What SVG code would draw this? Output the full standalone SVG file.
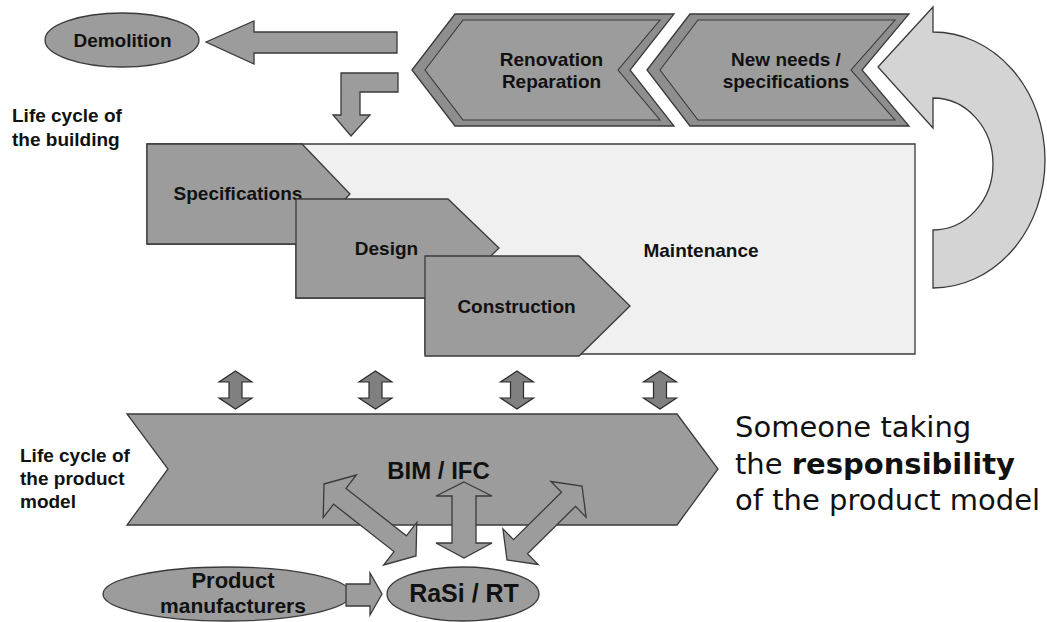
<svg xmlns="http://www.w3.org/2000/svg" xmlns:xlink="http://www.w3.org/1999/xlink" width="1047" height="622" viewBox="0 0 1047 622">
<style>
.shape{fill:#9c9c9c;stroke:#3a3a3a;stroke-width:1.3;stroke-linejoin:miter}
.chev{fill:#8e8e8e;stroke:#3a3a3a;stroke-width:1.3}
.chevin{fill:#9c9c9c;stroke:#3a3a3a;stroke-width:1.1}
.light{fill:#f0f0f0;stroke:#3a3a3a;stroke-width:1.3}
.dark{fill:#808080;stroke:#2a2a2a;stroke-width:1.2}
.curve{fill:#d4d4d4;stroke:#3a3a3a;stroke-width:1.3}
.lbl{font-family:"Liberation Sans",Arial,sans-serif;font-weight:bold;font-size:19px;fill:#111}
.c{text-anchor:middle}
.side{font-family:"DejaVu Sans",Verdana,sans-serif;font-size:29px;fill:#111}
</style>
<defs>
<polygon id="vdbl" class="dark" points="0,-19 16.5,-8 6.5,-8 6.5,8 16.5,8 0,19 -16.5,8 -6.5,8 -6.5,-8 -16.5,-8"/>
</defs>
<rect width="1047" height="622" fill="#ffffff"/>

<g id="demolition">
<ellipse class="shape" cx="122" cy="40" rx="77" ry="27"/>
<text class="lbl c" x="122.5" y="47">Demolition</text>
</g>

<g id="renovation">
<polygon class="chev" points="412,70 455,14 674,14 630,70 674,126 455,126"/>
<polygon class="chevin" points="425,70 463,20 660,20 618,70 660,120 463,120"/>
<text class="lbl c" x="551.5" y="66">Renovation</text>
<text class="lbl c" x="551.5" y="88">Reparation</text>
</g>

<g id="newneeds">
<polygon class="chev" points="647,70 690,14 909,14 862,70 909,126 690,126"/>
<polygon class="chevin" points="660,70 698,20 895,20 851,70 895,120 698,120"/>
<text class="lbl c" x="786" y="66">New needs /</text>
<text class="lbl c" x="786" y="88">specifications</text>
</g>

<g id="label-building">
<text class="lbl" x="12" y="122">Life cycle of</text>
<text class="lbl" x="12" y="146">the building</text>
</g>

<g id="maintenance">
<polygon class="light" points="147,144 915,144 915,354 425,354 425,298 296,298 296,244 147,244"/>
<text class="lbl c" x="701" y="257">Maintenance</text>
</g>

<g id="specifications">
<polygon class="shape" points="147,144 302,144 350,194 302,244 147,244"/>
<text class="lbl c" x="238" y="200">Specifications</text>
</g>

<g id="design">
<polygon class="shape" points="296,199 448,199 499,248 448,298 296,298"/>
<text class="lbl c" x="386.5" y="255">Design</text>
</g>

<g id="construction">
<polygon class="shape" points="425,256 579,256 630,306 579,356 425,356"/>
<text class="lbl c" x="516.5" y="313">Construction</text>
</g>

<g id="bim">
<polygon class="shape" points="127,414 677,414 718,469 677,525 127,525 168,469"/>
<text class="lbl c" x="438.5" y="479" style="font-size:24px">BIM / IFC</text>
</g>

<g id="label-product">
<text class="lbl" x="20" y="462">Life cycle of</text>
<text class="lbl" x="20" y="485">the product</text>
<text class="lbl" x="20" y="508">model</text>
</g>

<g id="responsibility">
<text class="side" x="735" y="437">Someone taking</text>
<text class="side" x="735" y="474">the <tspan font-weight="bold">responsibility</tspan></text>
<text class="side" x="735" y="510">of the product model</text>
</g>

<g id="manufacturers">
<ellipse class="shape" cx="227" cy="594" rx="124" ry="27"/>
<text class="lbl c" x="233" y="588" style="font-size:22px">Product</text>
<text class="lbl c" x="233" y="613" style="font-size:21px">manufacturers</text>
</g>

<g id="rasi">
<ellipse class="shape" cx="463" cy="594" rx="76" ry="27"/>
<text class="lbl c" x="464" y="602" style="font-size:25px">RaSi / RT</text>
</g>

<g id="connectors">
<polygon class="shape" points="206,42 254,21 254,32 397,32 397,53 254,53 254,64"/>
<polygon class="shape" points="398,73 398,92 360,92 360,115 370,115 351,136 333,115 341,115 341,73"/>
<path class="curve" d="M878,67 L933,7 L933,32 A112,128 0 0 1 933,288 L933,230 A60,66 0 0 0 933,98 L933,128 Z"/>
<use xlink:href="#vdbl" x="235.5" y="390"/>
<use xlink:href="#vdbl" x="375.5" y="390"/>
<use xlink:href="#vdbl" x="517" y="390"/>
<use xlink:href="#vdbl" x="660" y="390"/>
<polygon class="shape" points="324,484 356.4,475 346,488.4 406.4,535.8 416.8,522.4 416,556 383.6,565 394,551.6 333.6,504.2 323.2,517.6"/>
<polygon class="shape" points="464,482 492,496 476,496 476,543 492,543 464,558 436,543 452,543 452,496 436,496"/>
<polygon class="shape" points="582,486 586.1,517.1 575.5,506.4 527.5,553.8 538.1,564.5 507,560 502.9,528.9 513.5,539.6 561.5,492.2 550.9,481.5"/>
<polygon class="shape" points="346,584 370,584 370,573 382,594 370,615 370,606 346,606"/>
</g>
</svg>
